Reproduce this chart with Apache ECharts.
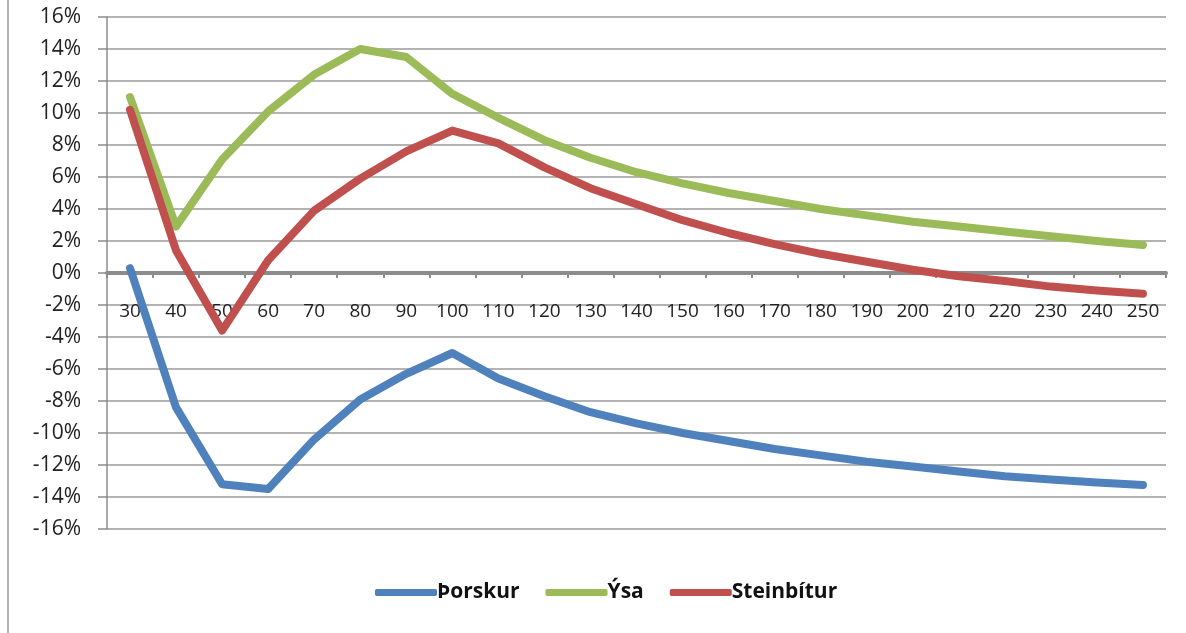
<!DOCTYPE html>
<html>
<head>
<meta charset="utf-8">
<script src="https://cdn.jsdelivr.net/npm/echarts@6/dist/echarts.min.js"></script>
<style>
html,body{margin:0;padding:0;background:#fff;}
#c{width:1186px;height:633px;}
</style>
</head>
<body>
<div id="c"></div>
<script>
const categories = ['30','40','50','60','70','80','90','100','110','120','130','140','150','160','170','180','190','200','210','220','230','240','250'];
const thorskur = [0.3,-8.4,-13.2,-13.5,-10.4,-7.9,-6.3,-5.0,-6.6,-7.7,-8.7,-9.4,-10.0,-10.5,-11.0,-11.4,-11.8,-12.1,-12.4,-12.7,-12.9,-13.1,-13.25];
const ysa = [11.0,2.9,7.1,10.1,12.4,14.0,13.5,11.2,9.7,8.3,7.2,6.3,5.6,5.0,4.5,4.0,3.6,3.2,2.9,2.6,2.3,2.0,1.75];
const steinbitur = [10.2,1.4,-3.6,0.8,3.9,5.9,7.6,8.9,8.1,6.6,5.3,4.3,3.3,2.5,1.8,1.2,0.7,0.2,-0.2,-0.5,-0.85,-1.1,-1.3];
const seriesNames = ['Þorskur','Ýsa','Steinbítur'];
const colors = ['#4F81BD','#9BBB59','#C0504D'];

const chart = echarts.init(document.getElementById('c'), null, {renderer:'canvas'});
const font = '"Open Sans", "DejaVu Sans", sans-serif';
const mk = (name, data, color) => ({
  name, type:'line', data, symbol:'none', smooth:false,
  lineStyle:{width:8, color, cap:'round', join:'round'},
  itemStyle:{color}
});
// zero line sits half-way down the plot (min -16, max 16)
const plotTop = 17, plotBottom = 104, H = 633;
const zeroOffset = -((H - plotBottom) - plotTop) / 2;
chart.setOption({
  animation:false,
  color: colors,
  grid:{left:107, right:20, top:plotTop, bottom:plotBottom, containLabel:false},
  graphic:[{type:'line', shape:{x1:8,y1:0,x2:8,y2:633}, style:{stroke:'#9a9a9a', lineWidth:1.5}}],
  legend:{
    bottom:25, left:370,
    itemWidth:62, itemHeight:7, itemGap:26,
    icon:'roundRect',
    textStyle:{fontFamily:font, fontSize:21, fontWeight:'bold', color:'#111', padding:[0,0,0,-5]},
    data: seriesNames
  },
  xAxis:{
    type:'category', data:categories, boundaryGap:true,
    position:'bottom', offset: zeroOffset,
    axisLine:{onZero:false, lineStyle:{color:'#8c8c8c', width:4}},
    axisTick:{show:true, length:5, lineStyle:{color:'#8c8c8c', width:2}},
    axisLabel:{margin:29, fontFamily:font, fontSize:19, color:'#222', interval:0}
  },
  yAxis:{
    type:'value', min:-16, max:16, interval:2,
    axisLine:{show:true, lineStyle:{color:'#8c8c8c', width:1.5}},
    axisTick:{show:true, length:9, lineStyle:{color:'#8c8c8c', width:1.5}},
    splitLine:{show:true, lineStyle:{color:'#9a9a9a', width:1.5}},
    axisLabel:{margin:26, fontFamily:font, fontSize:21, color:'#222', formatter: v => v + '%'}
  },
  series:[mk(seriesNames[0], thorskur, colors[0]), mk(seriesNames[1], ysa, colors[1]), mk(seriesNames[2], steinbitur, colors[2])]
});
</script>
</body>
</html>
